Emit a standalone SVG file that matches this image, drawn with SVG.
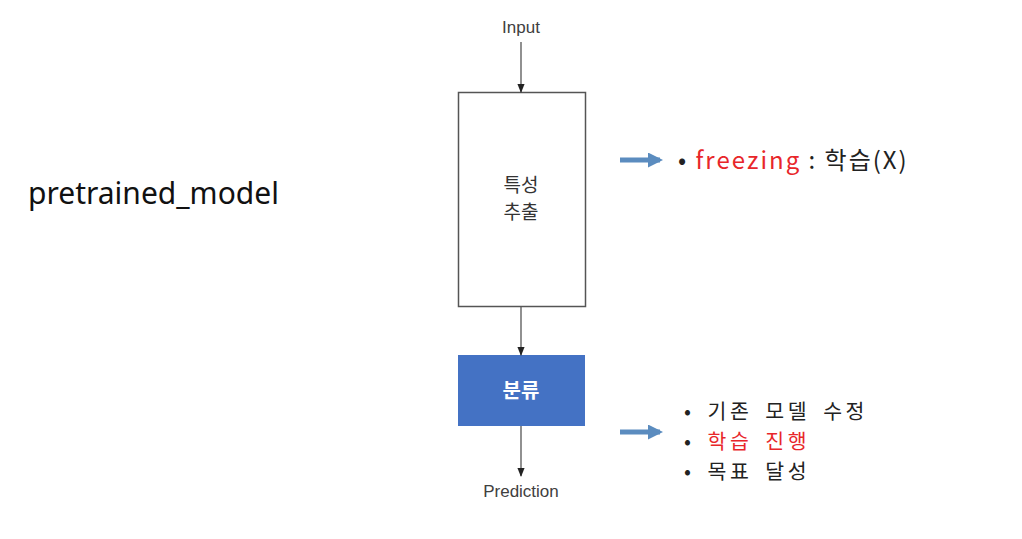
<svg xmlns="http://www.w3.org/2000/svg" width="1022" height="539" viewBox="0 0 1022 539">
<style>
.sm{font-family:"Liberation Sans",Arial,sans-serif;font-size:17px;fill:#404040}
.kr{font-family:"Noto Sans CJK KR","Noto Sans",sans-serif;font-size:24px;letter-spacing:2px;fill:#222}
.kr2{font-family:"Noto Sans CJK KR","Noto Sans",sans-serif;font-size:20.5px;letter-spacing:3.5px;word-spacing:5px;fill:#222}
.box{font-family:"Noto Sans CJK KR","Noto Sans",sans-serif;font-size:19px;fill:#333}
.red{fill:#e8262a}
.conn{stroke:#555;stroke-width:1.3;fill:none}
.big{stroke:#5b8cbf;stroke-width:5;fill:none}
</style>
<defs>
<marker id="ah" viewBox="0 0 10 10" refX="9" refY="5" markerWidth="7" markerHeight="7" orient="auto"><path d="M0,1 L10,5 L0,9 z" fill="#222"/></marker>
<marker id="bh" viewBox="0 0 10 10" refX="8" refY="5" markerWidth="3" markerHeight="3" orient="auto"><path d="M0,0 L10,5 L0,10 z" fill="#5b8cbf"/></marker>
</defs>
<rect width="1022" height="539" fill="#fff"/>
<text x="28" y="204" style="font-family:'Noto Sans','Open Sans',sans-serif;font-size:30px;fill:#111">pretrained_model</text>
<g id="input"><text x="521" y="33" text-anchor="middle" class="sm">Input</text></g>
<g id="feature">
<rect x="458.5" y="92.5" width="127" height="214" fill="#fff" stroke="#555" stroke-width="1.5"/>
<text text-anchor="middle" class="box"><tspan x="521" y="192">특성</tspan><tspan x="521" y="219">추출</tspan></text>
</g>
<g id="classify">
<rect x="458" y="355" width="127" height="71" fill="#4472c4"/>
<text x="521" y="398" text-anchor="middle" class="box" style="font-size:20px;fill:#fff;font-weight:bold">분류</text>
</g>
<g id="prediction"><text x="521" y="497" text-anchor="middle" class="sm">Prediction</text></g>
<g id="connectors">
<line x1="521" y1="42" x2="521" y2="92" class="conn" marker-end="url(#ah)"/>
<line x1="521" y1="307" x2="521" y2="355" class="conn" marker-end="url(#ah)"/>
<line x1="521" y1="426" x2="521" y2="476" class="conn" marker-end="url(#ah)"/>
<line x1="620" y1="160" x2="660" y2="160" class="big" marker-end="url(#bh)"/>
<line x1="620" y1="432" x2="660" y2="432" class="big" marker-end="url(#bh)"/>
</g>
<g id="note1">
<text x="678" y="169" class="kr">• <tspan class="red">freezing</tspan> : 학습(X)</text>
</g>
<g id="note2">
<text x="684" y="419" class="kr2">• 기존 모델 수정</text>
<text x="684" y="449" class="kr2">• <tspan class="red">학습 진행</tspan></text>
<text x="684" y="479" class="kr2">• 목표 달성</text>
</g>
</svg>
